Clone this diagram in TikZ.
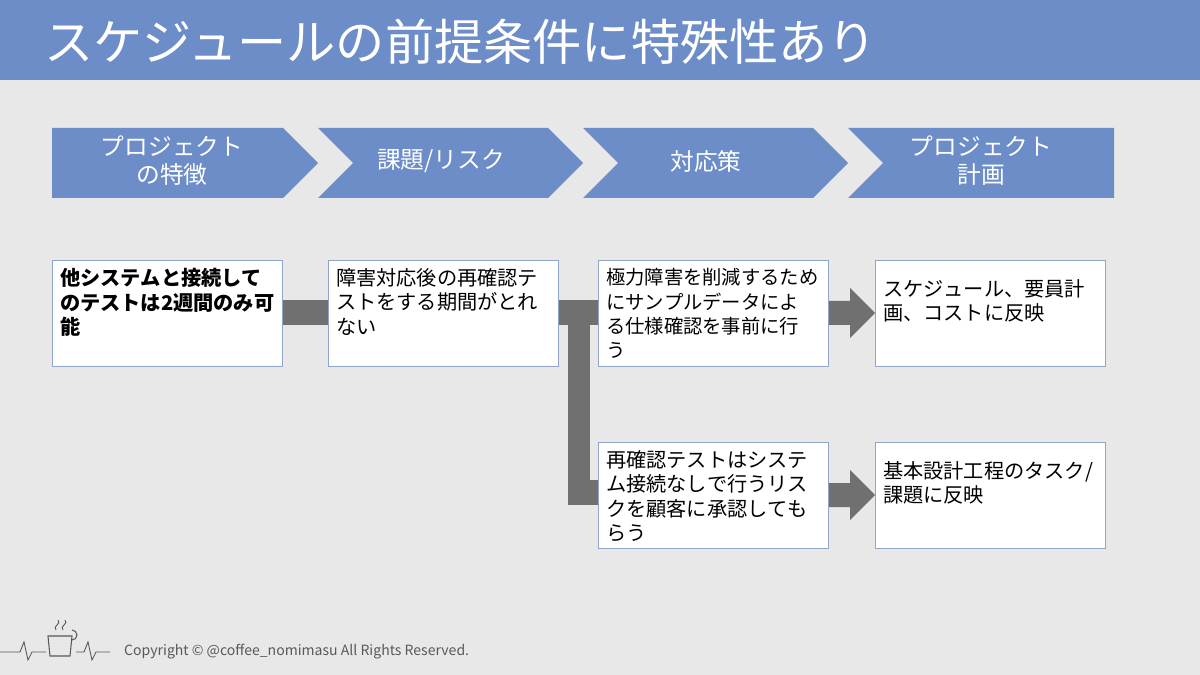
\documentclass[tikz,border=0pt]{standalone}
\usepackage{fontspec}
\setmainfont{Noto Sans CJK JP}
\XeTeXlinebreaklocale "ja"
\XeTeXlinebreakskip=0pt plus 1pt
\usetikzlibrary{shapes.symbols,arrows.meta}
\definecolor{bar}{HTML}{6C8DC8}
\definecolor{bg}{HTML}{E8E8E8}
\definecolor{con}{HTML}{707070}
\definecolor{bd}{HTML}{8FA6C9}
\newcommand{\bx}[1]{\parbox[t][1.8cm][t]{4.3cm}{\raggedright #1}}
\begin{document}
\begin{tikzpicture}[x=0.02cm,y=-0.02cm,
 box/.style={draw=bd,line width=0.6pt,fill=white,minimum width=4.6cm,minimum height=2.12cm,inner xsep=4pt,inner ysep=1.5pt,font=\fontsize{11.5}{13.8}\selectfont,anchor=north west},
 head/.style={fill=bar,draw=none},
 ht/.style={text=white,font=\fontsize{13.5}{16}\selectfont,align=center},
 con/.style={fill=con,draw=none}]
\fill[bg] (0,0) rectangle (1200,675);
\useasboundingbox (0,0) rectangle (1200,675);
\fill[bar] (0,0) rectangle (1200,80);
\node[anchor=west,text=white,font=\fontsize{28}{32}\selectfont] (title) at (38,42) {スケジュールの前提条件に特殊性あり};
% header chevrons
\fill[head] (52,128)--(283,128)--(318,163)--(283,198)--(52,198)--cycle;
\fill[head] (318,128)--(548,128)--(583,163)--(548,198)--(318,198)--(353,163)--cycle;
\fill[head] (583,128)--(813,128)--(848,163)--(813,198)--(583,198)--(618,163)--cycle;
\fill[head] (848,128)--(1114,128)--(1114,198)--(848,198)--(883,163)--cycle;
\node[ht] (h1) at (172,161) {プロジェクト\\の特徴};
\node[ht] (h2) at (441,161) {課題/リスク};
\node[ht] (h3) at (706,161) {対応策};
\node[ht] (h4) at (981,161) {プロジェクト\\計画};
% connectors
\fill[con] (281,300) rectangle (328,325);
\fill[con] (558,300) rectangle (598,325);
\fill[con] (568,300) rectangle (590,505);
\fill[con] (568,480) rectangle (598,505);
\fill[con] (828,301) -- (850,301) -- (850,288) -- (875,313) -- (850,338) -- (850,325) -- (828,325) -- cycle;
\fill[con] (828,483) -- (850,483) -- (850,470) -- (875,495) -- (850,520) -- (850,507) -- (828,507) -- cycle;
% boxes
\node[box] (b1) at (52,260) {\bx{\textbf{他システムと接続して\\のテストは2週間のみ可\\能}}};
\node[box] (b2) at (328,260) {\bx{障害対応後の再確認テ\\ストをする期間がとれ\\ない}};
\node[box,font=\fontsize{11}{13.8}\selectfont] (b3) at (598,260) {\bx{極力障害を削減するため\\にサンプルデータによ\\る仕様確認を事前に行\\う}};
\node[box] (b4) at (875,260) {\bx{\vspace*{2.2mm}スケジュール、要員計\\画、コストに反映}};
\node[box] (b5) at (598,442) {\bx{再確認テストはシステ\\ム接続なしで行うリス\\クを顧客に承認しても\\らう}};
\node[box] (b6) at (875,442) {\bx{\vspace*{2.2mm}基本設計工程のタスク/\\課題に反映}};
% footer logo
\draw[gray!70!black,line width=0.5pt] (0,652)--(20,652)--(24,642)--(28,660)--(32,652)--(46,652);
\draw[gray!70!black,line width=0.5pt] (76,652)--(84,652)--(88,642)--(92,660)--(96,652)--(110,652);
\draw[gray!70!black,line width=0.6pt] (48,636) -- (50,656) -- (70,656) -- (72,636) -- cycle;
\draw[gray!70!black,line width=0.6pt] (72,640) arc (90:-90:5 and 5);
\draw[gray!70!black,line width=0.5pt] (56,630) .. controls (52,626) and (62,624) .. (58,620);
\draw[gray!70!black,line width=0.5pt] (63,630) .. controls (59,626) and (69,624) .. (65,620);
\node[anchor=west,text=gray!70!black,font=\fontsize{8}{10}\selectfont] (copy) at (118,652) {Copyright © @coffee\_nomimasu All Rights Reserved.};
\end{tikzpicture}
\end{document}
